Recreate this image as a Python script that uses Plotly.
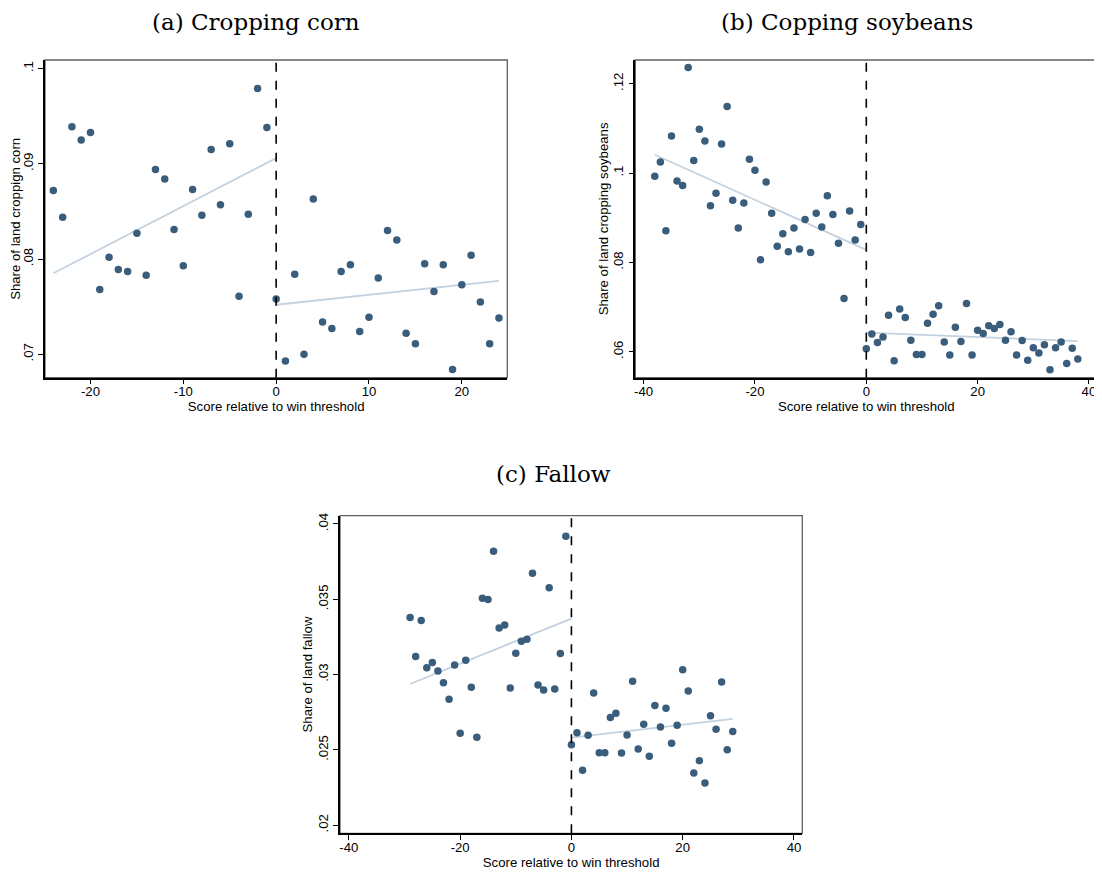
import plotly.graph_objects as go

# ---------------- data ----------------
corn_x = list(range(-24, 25))
corn_y = [0.0872, 0.0844, 0.0939, 0.0925, 0.0933, 0.0768, 0.0802, 0.0789, 0.0787, 0.0827,
          0.0783, 0.0894, 0.0884, 0.0831, 0.0793, 0.0873, 0.0846, 0.0915, 0.0857, 0.0921,
          0.0761, 0.0847, 0.0979, 0.0938,
          0.0758, 0.0693, 0.0784, 0.0700, 0.0863, 0.0734, 0.0727, 0.0787, 0.0794, 0.0724,
          0.0739, 0.0780, 0.0830, 0.0820, 0.0722, 0.0711, 0.0795, 0.0766, 0.0794, 0.0684,
          0.0773, 0.0804, 0.0755, 0.0711, 0.0738]
corn_fit_left_x = [-24, 0]
corn_fit_left_y = [0.0785, 0.0906]
corn_fit_right_x = [0, 24]
corn_fit_right_y = [0.0752, 0.0777]

soy_x = list(range(-38, 39))
soy_y = [0.0993, 0.1025, 0.0871, 0.1083, 0.0982, 0.0972, 0.1236, 0.1028, 0.1098, 0.1072,
         0.0927, 0.0955, 0.1065, 0.1149, 0.0939, 0.0877, 0.0933, 0.1031, 0.1006, 0.0806,
         0.0980, 0.0910, 0.0836, 0.0864, 0.0824, 0.0877, 0.0830, 0.0896, 0.0822, 0.0910,
         0.0879, 0.0949, 0.0907, 0.0843, 0.0719, 0.0915, 0.0850, 0.0885,
         0.0607, 0.0640, 0.0621, 0.0633, 0.0682, 0.0580, 0.0696, 0.0677, 0.0626, 0.0594,
         0.0594, 0.0664, 0.0684, 0.0703, 0.0622, 0.0593, 0.0655, 0.0623, 0.0708, 0.0593,
         0.0648, 0.0641, 0.0658, 0.0652, 0.0661, 0.0626, 0.0645, 0.0593, 0.0625, 0.0581,
         0.0609, 0.0597, 0.0616, 0.0560, 0.0609, 0.0622, 0.0574, 0.0608, 0.0584]
soy_fit_left_x = [-38, 0]
soy_fit_left_y = [0.1041, 0.0828]
soy_fit_right_x = [0, 38]
soy_fit_right_y = [0.0643, 0.0624]

fal_x = list(range(-29, 30))
fal_y = [0.0338, 0.0312, 0.0336, 0.03046, 0.0308, 0.03024, 0.02947, 0.02836, 0.03064, 0.02611,
         0.03095, 0.02916, 0.02584, 0.03507, 0.03498, 0.03819, 0.0331, 0.0333, 0.02912, 0.03142,
         0.03221, 0.03235, 0.03673, 0.02931, 0.02898, 0.03577, 0.02905, 0.0314, 0.03918,
         0.02535, 0.02615, 0.02365, 0.02597, 0.02878, 0.02482, 0.02482, 0.02715, 0.02743, 0.0248,
         0.0260, 0.02956, 0.02507, 0.0267, 0.02458, 0.02796, 0.02653, 0.02777, 0.02544, 0.02664,
         0.03033, 0.02892, 0.02347, 0.02429, 0.02281, 0.02728, 0.02637, 0.02951, 0.02502, 0.02622]
fal_fit_left_x = [-29, 0]
fal_fit_left_y = [0.02938, 0.03372]
fal_fit_right_x = [0, 29]
fal_fit_right_y = [0.02582, 0.02706]

titles = ["(a) Cropping corn", "(b) Copping soybeans", "(c) Fallow"]
x_title = "Score relative to win threshold"
y_titles = ["Share of land croppign corn", "Share of land cropping soybeans", "Share of land fallow"]

corn_xticks = [-20, -10, 0, 10, 20]
corn_xticktext = ["-20", "-10", "0", "10", "20"]
corn_yticks = [0.07, 0.08, 0.09, 0.1]
corn_yticktext = [".07", ".08", ".09", ".1"]
soy_xticks = [-40, -20, 0, 20, 40]
soy_xticktext = ["-40", "-20", "0", "20", "40"]
soy_yticks = [0.06, 0.08, 0.1, 0.12]
soy_yticktext = [".06", ".08", ".1", ".12"]
fal_xticks = [-40, -20, 0, 20, 40]
fal_xticktext = ["-40", "-20", "0", "20", "40"]
fal_yticks = [0.02, 0.025, 0.03, 0.035, 0.04]
fal_yticktext = [".02", ".025", ".03", ".035", ".04"]

# ---------------- styling ----------------
OFF = 8                      # page body margin
W, H = 1094, 866             # figure size inside the page
DOT = "#3a5d7c"
FIT = "#c3d2e0"
FONT = "Liberation Sans"
SERIF = "DejaVu Serif"
FS = 13.2

panels = [
    dict(x=corn_x, y=corn_y, fl=(corn_fit_left_x, corn_fit_left_y), fr=(corn_fit_right_x, corn_fit_right_y),
         px=(45, 507.3), py=(60, 377.7), xr=[-24.9, 24.9], yr=[0.06754, 0.1009],
         xt=corn_xticks, xtt=corn_xticktext, yt=corn_yticks, ytt=corn_yticktext, title_xy=(256, 22)),
    dict(x=soy_x, y=soy_y, fl=(soy_fit_left_x, soy_fit_left_y), fr=(soy_fit_right_x, soy_fit_right_y),
         px=(635.3, 1097.3), py=(60, 377.7), xr=[-41.5, 41.5], yr=[0.0542, 0.1253],
         xt=soy_xticks, xtt=soy_xticktext, yt=soy_yticks, ytt=soy_yticktext, title_xy=(847, 22)),
    dict(x=fal_x, y=fal_y, fl=(fal_fit_left_x, fal_fit_left_y), fr=(fal_fit_right_x, fal_fit_right_y),
         px=(340, 802.3), py=(515.7, 833.3), xr=[-41.6, 41.5], yr=[0.01947, 0.04055],
         xt=fal_xticks, xtt=fal_xticktext, yt=fal_yticks, ytt=fal_yticktext, title_xy=(553, 474)),
]

fig = go.Figure()
shapes = []
annotations = []
layout = dict(width=W, height=H, margin=dict(l=0, r=0, t=0, b=0, autoexpand=False),
              paper_bgcolor="white", plot_bgcolor="white", showlegend=False,
              font=dict(family=FONT, size=FS, color="black"))

for i, p in enumerate(panels):
    n = "" if i == 0 else str(i + 1)
    xa, ya = "x" + n, "y" + n
    fig.add_trace(go.Scatter(x=p["fl"][0], y=p["fl"][1], mode="lines",
                             line=dict(color=FIT, width=1.8), xaxis=xa, yaxis=ya, hoverinfo="skip"))
    fig.add_trace(go.Scatter(x=p["fr"][0], y=p["fr"][1], mode="lines",
                             line=dict(color=FIT, width=1.8), xaxis=xa, yaxis=ya, hoverinfo="skip"))
    fig.add_trace(go.Scatter(x=p["x"], y=p["y"], mode="markers",
                             marker=dict(color=DOT, size=7.5, line=dict(width=0)),
                             xaxis=xa, yaxis=ya))
    xd = [(p["px"][0] - OFF) / W, min(1.0, (p["px"][1] - OFF) / W)]
    yd = [1 - (p["py"][1] - OFF) / H, 1 - (p["py"][0] - OFF) / H]
    layout["xaxis" + n] = dict(domain=xd, range=p["xr"], anchor=ya, tickvals=p["xt"], ticktext=p["xtt"],
                               automargin=False, ticklabelstandoff=-4,
                               showgrid=False, zeroline=False, showline=True, linecolor="black",
                               linewidth=1.5, ticks="outside", ticklen=5, tickwidth=1.2,
                               tickcolor="black", tickfont=dict(size=FS),
                               title=dict(text=x_title, standoff=0, font=dict(size=FS)))
    layout["yaxis" + n] = dict(domain=yd, range=p["yr"], anchor=xa, tickvals=p["yt"],
                               ticktext=p["ytt"], tickangle=-90, automargin=False,
                               showgrid=False, zeroline=False, showline=True, linecolor="black",
                               linewidth=1.5, ticks="outside", ticklen=5, tickwidth=1.2,
                               tickcolor="black", tickfont=dict(size=FS),
                               title=dict(text=y_titles[i], standoff=0, font=dict(size=FS)))
    # outer frame (top/right lighter)
    shapes.append(dict(type="rect", xref=xa + " domain", yref=ya + " domain", x0=0, x1=1, y0=0, y1=1,
                       line=dict(color="#606060", width=1.3), layer="below"))
    # threshold line
    shapes.append(dict(type="line", xref=xa, yref=ya + " domain", x0=0, x1=0, y0=0, y1=1,
                       line=dict(color="black", width=1.6, dash="dash"), layer="above"))
    annotations.append(dict(text=titles[i], x=(p["title_xy"][0] - OFF) / W, y=1 - (p["title_xy"][1] - OFF) / H,
                            xref="paper", yref="paper", showarrow=False, xanchor="center",
                            yanchor="middle", font=dict(family=SERIF, size=23, color="black")))

layout["shapes"] = shapes
layout["annotations"] = annotations
fig.update_layout(**layout)
fig.write_html("out.html")
